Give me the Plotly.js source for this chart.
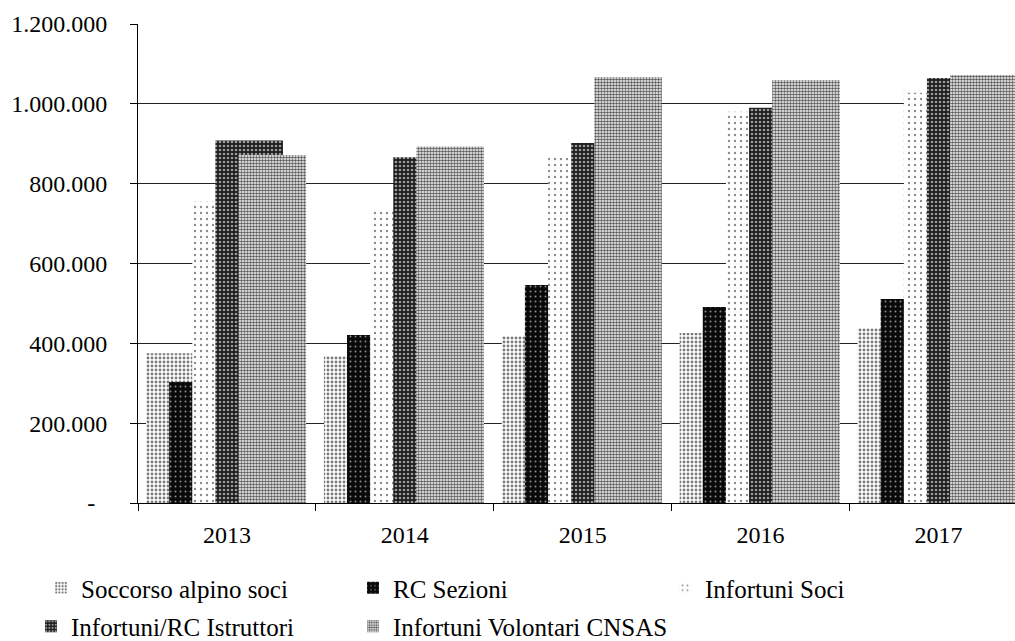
<!DOCTYPE html>
<html>
<head>
<meta charset="utf-8">
<script src="https://cdn.plot.ly/plotly-3.0.1.min.js"></script>
<style>
html,body{margin:0;padding:0;background:#fff}
#chart{width:1015px;height:641px}
svg text{font-family:'Liberation Serif','Times New Roman',serif !important}
</style>
</head>
<body>
<div id="chart"></div>
<script>
var years = ['2013', '2014', '2015', '2016', '2017'];
var seriesNames = ['Soccorso alpino soci', 'RC Sezioni', 'Infortuni Soci', 'Infortuni/RC Istruttori', 'Infortuni Volontari CNSAS'];
var soccorsoAlpinoSoci = [375000, 368000, 418000, 426000, 438000];
var rcSezioni = [303000, 421000, 546000, 491000, 511000];
var infortuniSoci = [755000, 730000, 865000, 980000, 1028000];
var infortuniRcIstruttori = [908000, 866000, 902000, 990000, 1065000];
var infortuniVolontariCnsas = [872000, 893000, 1067000, 1060000, 1072000];
var yTickVals = [0, 200000, 400000, 600000, 800000, 1000000, 1200000];
var yTickText = ['-\u00a0\u00a0', '200.000', '400.000', '600.000', '800.000', '1.000.000', '1.200.000'];

var values = [soccorsoAlpinoSoci, rcSezioni, infortuniSoci, infortuniRcIstruttori, infortuniVolontariCnsas];
var styles = [
  {bg: '#ffffff', fg: '#7a7a7a', size: 4, sol: 0.4, legend: 'legend'},
  {bg: '#0a0a0a', fg: '#8a8a8a', size: 5, sol: 0.12, legend: 'legend'},
  {bg: '#ffffff', fg: '#8c8c8c', size: 6, sol: 0.12, legend: 'legend'},
  {bg: '#1c1c1c', fg: '#9a9a9a', size: 4, sol: 0.36, legend: 'legend2'},
  {bg: '#ffffff', fg: '#5a5a5a', size: 3, sol: 0.55, legend: 'legend2'}
];
var offsets = [-0.455, -0.325, -0.195, -0.065, 0.065];

var data = values.map(function (v, i) {
  var s = styles[i];
  return {
    type: 'bar',
    name: seriesNames[i],
    x: years,
    y: v,
    width: 0.38,
    offset: offsets[i],
    legend: s.legend,
    hoverinfo: 'x+y+name',
    marker: {
      color: s.bg,
      line: {width: 0},
      pattern: {shape: '.', bgcolor: s.bg, fgcolor: s.fg, size: s.size, solidity: s.sol, fillmode: 'replace'}
    }
  };
});

function mkFont(size) {
  return {family: 'Liberation Serif', size: size};
}

var layout = {
  width: 1015,
  height: 641,
  margin: {l: 138, r: 0, t: 24, b: 138, autoexpand: false},
  paper_bgcolor: '#ffffff',
  plot_bgcolor: '#ffffff',
  barmode: 'overlay',
  font: {family: 'Liberation Serif', size: 24, color: '#000'},
  xaxis: {
    type: 'category',
    range: [-0.5, 4.43],
    showgrid: false,
    showline: true,
    linecolor: '#000',
    linewidth: 1,
    ticks: 'outside',
    tickson: 'boundaries',
    ticklen: 7,
    tickcolor: '#000',
    ticklabelstandoff: 10,
    tickfont: mkFont(24),
    automargin: false,
    fixedrange: true
  },
  yaxis: {
    range: [0, 1200000],
    tickvals: yTickVals,
    ticktext: yTickText,
    showgrid: true,
    gridcolor: '#222',
    gridwidth: 1,
    zeroline: false,
    showline: true,
    linecolor: '#000',
    linewidth: 1,
    ticks: 'outside',
    ticklen: 7,
    tickcolor: '#000',
    ticklabelstandoff: 18,
    tickfont: mkFont(24),
    automargin: false,
    fixedrange: true
  },
  legend: {
    orientation: 'h',
    x: -0.1106,
    xanchor: 'left',
    y: -0.1775,
    yanchor: 'middle',
    entrywidth: 267,
    entrywidthmode: 'pixels',
    font: mkFont(25),
    bgcolor: 'rgba(0,0,0,0)',
    traceorder: 'normal'
  },
  legend2: {
    orientation: 'h',
    x: -0.122,
    xanchor: 'left',
    y: -0.258,
    yanchor: 'middle',
    entrywidth: 277,
    entrywidthmode: 'pixels',
    font: mkFont(25),
    bgcolor: 'rgba(0,0,0,0)',
    traceorder: 'normal'
  },
  showlegend: true
};

Plotly.newPlot('chart', data, layout, {displayModeBar: false, staticPlot: true});
</script>
</body>
</html>
